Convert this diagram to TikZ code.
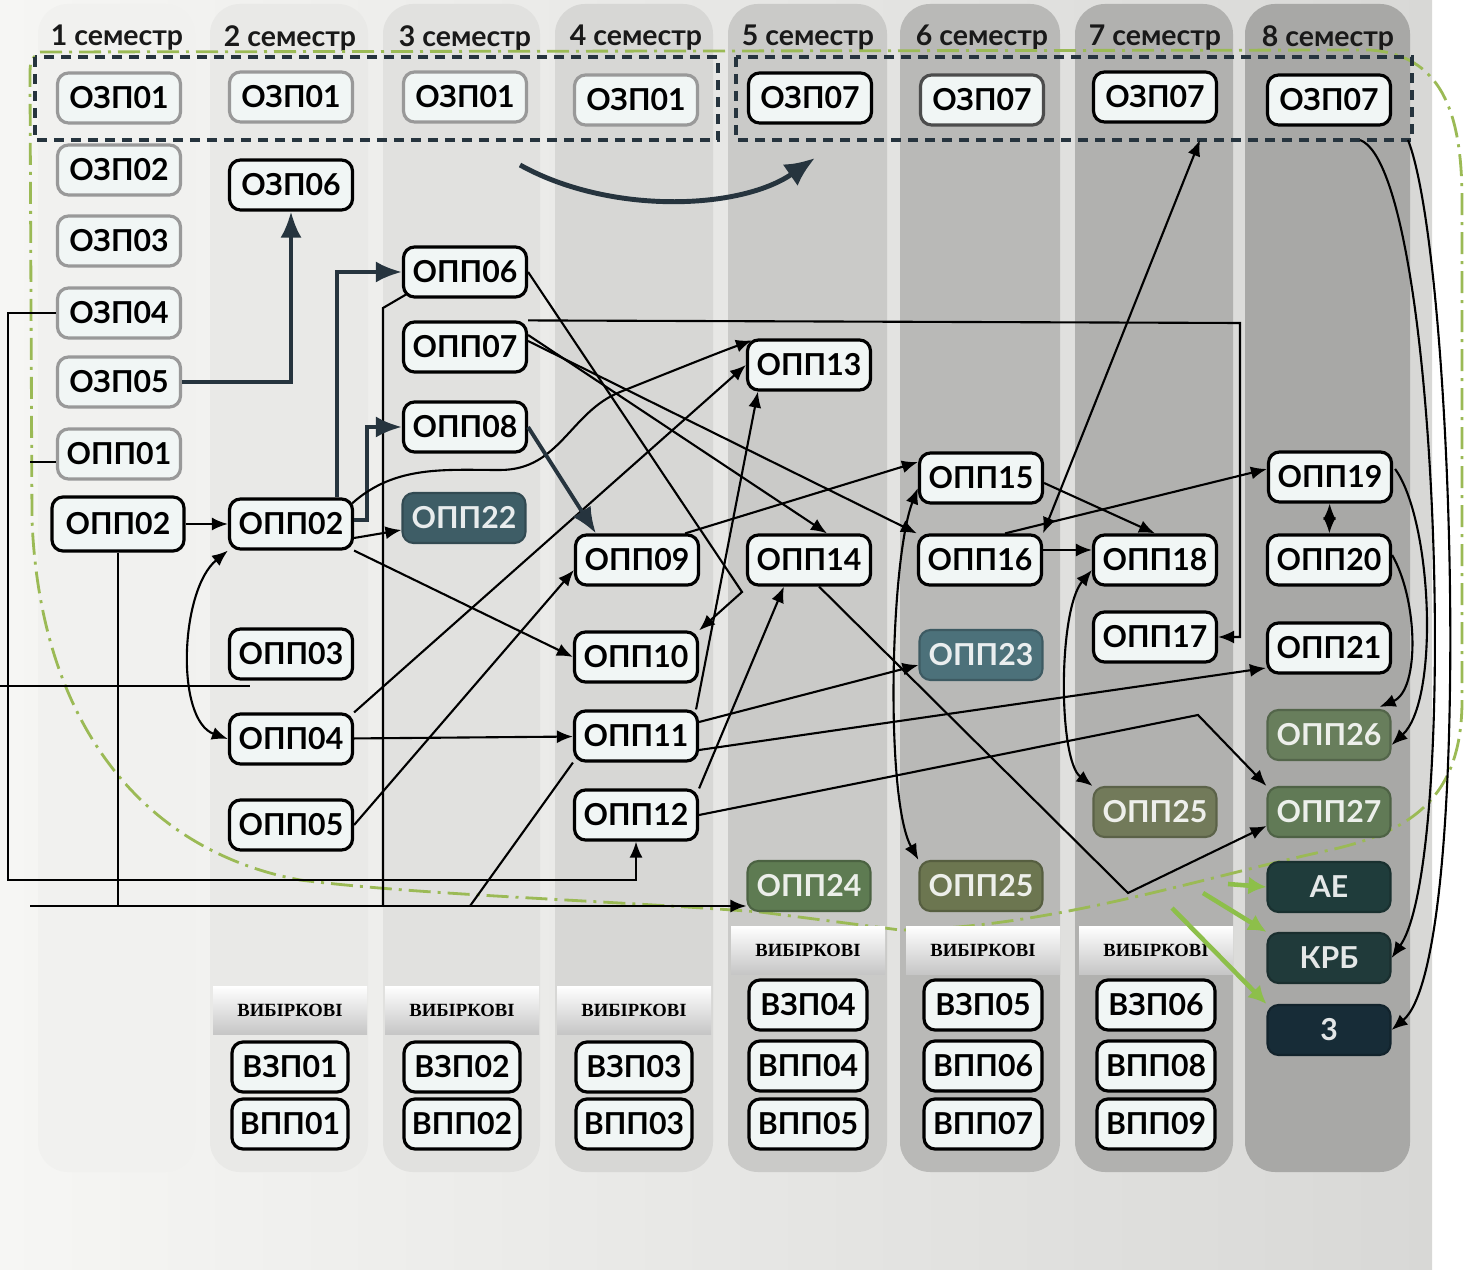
\documentclass[tikz,border=0pt]{standalone}
\usepackage{fontspec}
\setmainfont{Lato}
\newfontfamily\pickfont{Liberation Serif}
\usetikzlibrary{arrows.meta,calc}
\definecolor{ink}{HTML}{26343E}
\definecolor{paper}{HTML}{F1F6F5}
\definecolor{backL}{HTML}{F6F6F4}
\definecolor{backR}{HTML}{D8D8D6}
\definecolor{colA}{HTML}{F1F1EF}
\definecolor{colB}{HTML}{E9E9E7}
\definecolor{colC}{HTML}{E1E1DF}
\definecolor{colD}{HTML}{D7D7D5}
\definecolor{colE}{HTML}{CACAC8}
\definecolor{colF}{HTML}{B9B9B7}
\definecolor{colG}{HTML}{B1B1AF}
\definecolor{colH}{HTML}{A8A8A6}
\definecolor{tealA}{HTML}{3E5D66}
\definecolor{tealB}{HTML}{4C717A}
\definecolor{greenA}{HTML}{5E7B52}
\definecolor{greenB}{HTML}{687E5C}
\definecolor{greenC}{HTML}{617A56}
\definecolor{oliveA}{HTML}{6C7650}
\definecolor{oliveB}{HTML}{727A5A}
\definecolor{darkA}{HTML}{1F3C3B}
\definecolor{darkB}{HTML}{203A3A}
\definecolor{darkC}{HTML}{172C37}
\definecolor{leaf}{HTML}{8DBF4A}
\definecolor{loopgreen}{HTML}{9BBA55}
\begin{document}
\begin{tikzpicture}[x=0.1mm,y=-0.1mm,
  box/.style={draw=black,line width=0.9pt,rounded corners=1.1mm,fill=paper,minimum width=12.3mm,minimum height=5mm,inner sep=0pt,font={\fontsize{8.6}{10}\selectfont\bfseries}},
  faded/.style={box,draw=gray!80},
  tinted/.style={box,fill=#1,draw=#1!80!black,line width=0.6pt,text=white!88!#1},
  pick/.style={minimum width=15.4mm,minimum height=4.8mm,inner sep=0pt,top color=white,bottom color=gray!45,font={\pickfont\fontsize{5.3}{6}\selectfont\bfseries}},
  term/.style={font={\fontsize{8.1}{10}\selectfont\bfseries},text=black!90},
  link/.style={line width=0.6pt,-{Latex[length=1.6mm,width=1.3mm]}},
  twoway/.style={line width=0.6pt,{Latex[length=1.6mm,width=1.3mm]}-{Latex[length=1.6mm,width=1.3mm]}},
  heavy/.style={draw=ink,line width=1.1pt,-{Latex[length=2.6mm,width=2.1mm]}},
  swing/.style={draw=ink,line width=1.4pt,-{Latex[length=3mm,width=2.6mm]}},
  plain/.style={line width=0.6pt},
  sprout/.style={draw=leaf,line width=1.3pt,-{Latex[length=1.8mm,width=1.8mm]}},
  dashbox/.style={draw=ink,line width=1pt,dash pattern=on 1mm off 0.7mm},
  loop/.style={draw=loopgreen,line width=0.8pt,dash pattern=on 2.2mm off 0.7mm on 0.3mm off 0.7mm}]
\useasboundingbox (0,0) rectangle (1480,1270);
\fill[white] (0,0) rectangle (1480,1270);
\shade[left color=backL,right color=backR] (0,0) rectangle (1432,1270);
\foreach \xl/\w/\tone in {38/157/colA,210/158/colB,383/157/colC,555/158/colD,728/159/colE,900/160/colF,1075/158/colG,1245/165/colH}
  \fill[\tone,rounded corners=3mm] (\xl,4) rectangle ++(\w,1168);
\foreach \n/\x in {1/117,2/290,3/465,4/636,5/808,6/982,7/1155,8/1328}
  \node[term] (sem\n) at (\x,38) {\n\ семестр};

\draw[loop] (40,52) -- (1370,50) .. controls (1440,55) and (1462,110) .. (1462,200) -- (1462,700)
  .. controls (1462,790) and (1420,830) .. (1330,850) .. controls (1200,878) and (1050,928) .. (900,930)
  -- (760,912) .. controls (600,900) and (420,895) .. (300,880) .. controls (140,850) and (40,720) .. (32,520)
  -- (30,80) .. controls (30,60) .. (40,52);

\draw[dashbox] (35,57) rectangle (718,140);
\draw[dashbox] (736,57) rectangle (1412,140);

\node[faded] (s1ozp01) at (119,98) {ОЗП01};
\node[faded] (s1ozp02) at (119,170) {ОЗП02};
\node[faded] (s1ozp03) at (119,241) {ОЗП03};
\node[faded] (s1ozp04) at (119,313) {ОЗП04};
\node[faded] (s1ozp05) at (119,382) {ОЗП05};
\node[faded] (s1opp01) at (119,454) {ОПП01};
\node[box,minimum width=13.2mm,minimum height=5.4mm] (s1opp02) at (118,524) {ОПП02};

\node[faded] (s2ozp01) at (291,97) {ОЗП01};
\node[box] (ozp06) at (291,185) {ОЗП06};
\node[box] (s2opp02) at (291,524) {ОПП02};
\node[box] (opp03) at (291,654) {ОПП03};
\node[box] (opp04) at (291,739) {ОПП04};
\node[box] (opp05) at (291,825) {ОПП05};

\node[faded] (s3ozp01) at (465,97) {ОЗП01};
\node[box] (opp06) at (465,272) {ОПП06};
\node[box] (opp07) at (465,347) {ОПП07};
\node[box] (opp08) at (465,427) {ОПП08};
\node[tinted=tealA] (opp22) at (464,518) {ОПП22};

\node[faded] (s4ozp01) at (636,100) {ОЗП01};
\node[box] (opp09) at (637,560) {ОПП09};
\node[box] (opp10) at (636,657) {ОПП10};
\node[box] (opp11) at (636,736) {ОПП11};
\node[box] (opp12) at (636,815) {ОПП12};

\node[box] (s5ozp07) at (810,98) {ОЗП07};
\node[box] (opp13) at (809,365) {ОПП13};
\node[box] (opp14) at (809,560) {ОПП14};
\node[tinted=greenA] (opp24) at (809,886) {ОПП24};

\node[box,draw=black!70] (s6ozp07) at (982,100) {ОЗП07};
\node[box] (opp15) at (981,478) {ОПП15};
\node[box] (opp16) at (980,560) {ОПП16};
\node[tinted=tealB] (opp23) at (981,655) {ОПП23};
\node[tinted=oliveA] (s6opp25) at (981,886) {ОПП25};

\node[box] (s7ozp07) at (1155,97) {ОЗП07};
\node[box] (opp18) at (1155,560) {ОПП18};
\node[box] (opp17) at (1155,637) {ОПП17};
\node[tinted=oliveB] (s7opp25) at (1155,812) {ОПП25};

\node[box] (s8ozp07) at (1329,100) {ОЗП07};
\node[box] (opp19) at (1330,477) {ОПП19};
\node[box] (opp20) at (1329,560) {ОПП20};
\node[box] (opp21) at (1329,648) {ОПП21};
\node[tinted=greenB] (opp26) at (1329,735) {ОПП26};
\node[tinted=greenC] (opp27) at (1329,812) {ОПП27};
\node[tinted=darkA] (ae) at (1329,887) {АЕ};
\node[tinted=darkB] (krb) at (1329,958) {КРБ};
\node[tinted=darkC] (zal) at (1329,1030) {3};

\foreach \c/\x/\a/\b in {2/290/ВЗП01/ВПП01,3/462/ВЗП02/ВПП02,4/634/ВЗП03/ВПП03} {
  \node[pick] (pick\c) at (\x,1010) {ВИБІРКОВІ};
  \node[box,minimum width=11.6mm] (vz\c) at (\x,1067) {\a};
  \node[box,minimum width=11.6mm] (vp\c) at (\x,1124) {\b};
}
\foreach \c/\x/\a/\b/\d in {5/808/ВЗП04/ВПП04/ВПП05,6/983/ВЗП05/ВПП06/ВПП07,7/1156/ВЗП06/ВПП08/ВПП09} {
  \node[pick] (pick\c) at (\x,950) {ВИБІРКОВІ};
  \node[box,minimum width=11.8mm] (vz\c) at (\x,1005) {\a};
  \node[box,minimum width=11.8mm] (vp\c) at (\x,1066) {\b};
  \node[box,minimum width=11.8mm] (vq\c) at (\x,1124) {\d};
}

\coordinate (ozpout) at (1200,140);
\coordinate (krbfrom) at (1360,140);
\coordinate (zalfrom) at (1408,140);
\coordinate (leftrail) at (8,880);
\coordinate (buswest) at (30,906);
\coordinate (drop3) at (383,308);
\coordinate (join11) at (470,906);
\coordinate (cut3w) at (0,686);
\coordinate (cut3e) at (250,686);
\coordinate (kink6) at (742,592);
\coordinate (rail7) at (1240,323);
\coordinate (kink12) at (1198,715);
\coordinate (kink14) at (1128,893);
\coordinate (swingfrom) at (520,165);
\coordinate (swingto) at (815,158);
\coordinate (leafA) at (1228,884);
\coordinate (leafB) at (1203,893);
\coordinate (leafC) at (1172,908);

\draw[heavy] (s1ozp05.east) -| (ozp06.south);
\draw[link] (s1ozp04.west) -| (leftrail) -| (opp12.south);
\draw[plain] ($(s1opp01.west)+(0,8)$) -- ++(-26,0);
\draw[link] (buswest) -- (buswest -| opp24.west);
\draw[plain] (s1opp02.south) -- (s1opp02.south |- buswest);
\draw[plain] ($(opp06.south west)+(4,-4)$) -- (drop3) -- (drop3 |- buswest);
\draw[plain] (opp11.south west) -- (join11);
\draw[plain] (cut3w) -- (cut3e);
\draw[link] (s1opp02) -- (s2opp02);
\draw[heavy] ($(s2opp02.north east)+(-17,0)$) |- (opp06.west);
\draw[heavy] ($(s2opp02.east)+(0,-4)$) -- ++(13,0) |- (opp08.west);
\draw[link] ($(s2opp02.east)+(0,14)$) -- ($(opp22.west)+(0,12)$);
\draw[link] ($(s2opp02.north east)+(-2,6)$) .. controls (395,465) and (445,470) .. (500,470)
  .. controls (560,470) and (570,412) .. (620,392) .. controls (680,368) and (720,352) .. ($(opp13.north west)+(6,2)$);
\draw[link] (s2opp02.south east) -- (opp10.west);
\draw[twoway] (s2opp02.south west) .. controls (180,590) and (175,720) .. (opp04.west);
\draw[link] (opp04) -- (opp11);
\draw[link] (opp04.north east) -- (opp13.west);
\draw[link] (opp05.east) -- ($(opp09.west)+(0,10)$);
\draw[link] (opp06.east) -- (kink6) -- (opp10.north east);
\draw[link] (opp07.north east) -- (rail7) |- (opp17.east);
\draw[link] ($(opp07.east)+(0,-12)$) -- ($(opp14.north)+(18,0)$);
\draw[link] ($(opp07.east)+(0,-6)$) -- (opp16.north west);
\draw[heavy] (opp08.east) -- ($(opp09.north west)+(22,0)$);
\draw[link] ($(opp09.north east)+(-15,0)$) -- ($(opp15.west)+(0,-16)$);
\draw[link] ($(opp11.north east)+(-3,0)$) -- ($(opp13.south west)+(12,0)$);
\draw[link] ($(opp11.east)+(0,-14)$) -- ($(opp23.west)+(0,10)$);
\draw[link] ($(opp11.east)+(0,14)$) -- ($(opp21.west)+(0,20)$);
\draw[link] (opp12.north east) -- ($(opp14.south west)+(38,0)$);
\draw[link] (opp12.east) -- (kink12) -- (opp27.north west);
\draw[link] ($(opp14.south)+(10,0)$) -- (kink14) -- ($(opp27.west)+(0,14)$);
\draw[twoway] (opp16.north east) -- (ozpout);
\draw[link] ($(opp15.east)+(0,5)$) -- (opp18.north);
\draw[link] ($(opp16.east)+(0,-10)$) -- ($(opp18.west)+(0,-10)$);
\draw[link] ($(opp16.north)+(25,0)$) -- ($(opp19.west)+(0,-8)$);
\draw[twoway] ($(opp18.west)+(0,10)$) .. controls (1058,610) and (1058,760) .. (s7opp25.north west);
\draw[twoway] ($(opp15.west)+(0,10)$) .. controls (890,560) and (885,800) .. (s6opp25.north west);
\draw[twoway] (opp19) -- (opp20);
\draw[link] ($(opp19.east)+(2,-8)$) .. controls (1432,520) and (1440,700) .. ($(opp26.east)+(0,10)$);
\draw[link] ($(opp20.east)+(0,-5)$) .. controls (1418,600) and (1420,690) .. ($(opp26.north east)+(-12,-2)$);
\draw[link] (krbfrom) .. controls (1440,170) and (1460,860) .. (krb.east);
\draw[link] (zalfrom) .. controls (1455,260) and (1475,960) .. (zal.east);
\draw[sprout] (leafA) -- (ae.west);
\draw[sprout] (leafB) -- (krb.north west);
\draw[sprout] (leafC) -- (zal.north west);
\draw[swing] (swingfrom) .. controls (610,215) and (740,210) .. (swingto);
\end{tikzpicture}
\end{document}
